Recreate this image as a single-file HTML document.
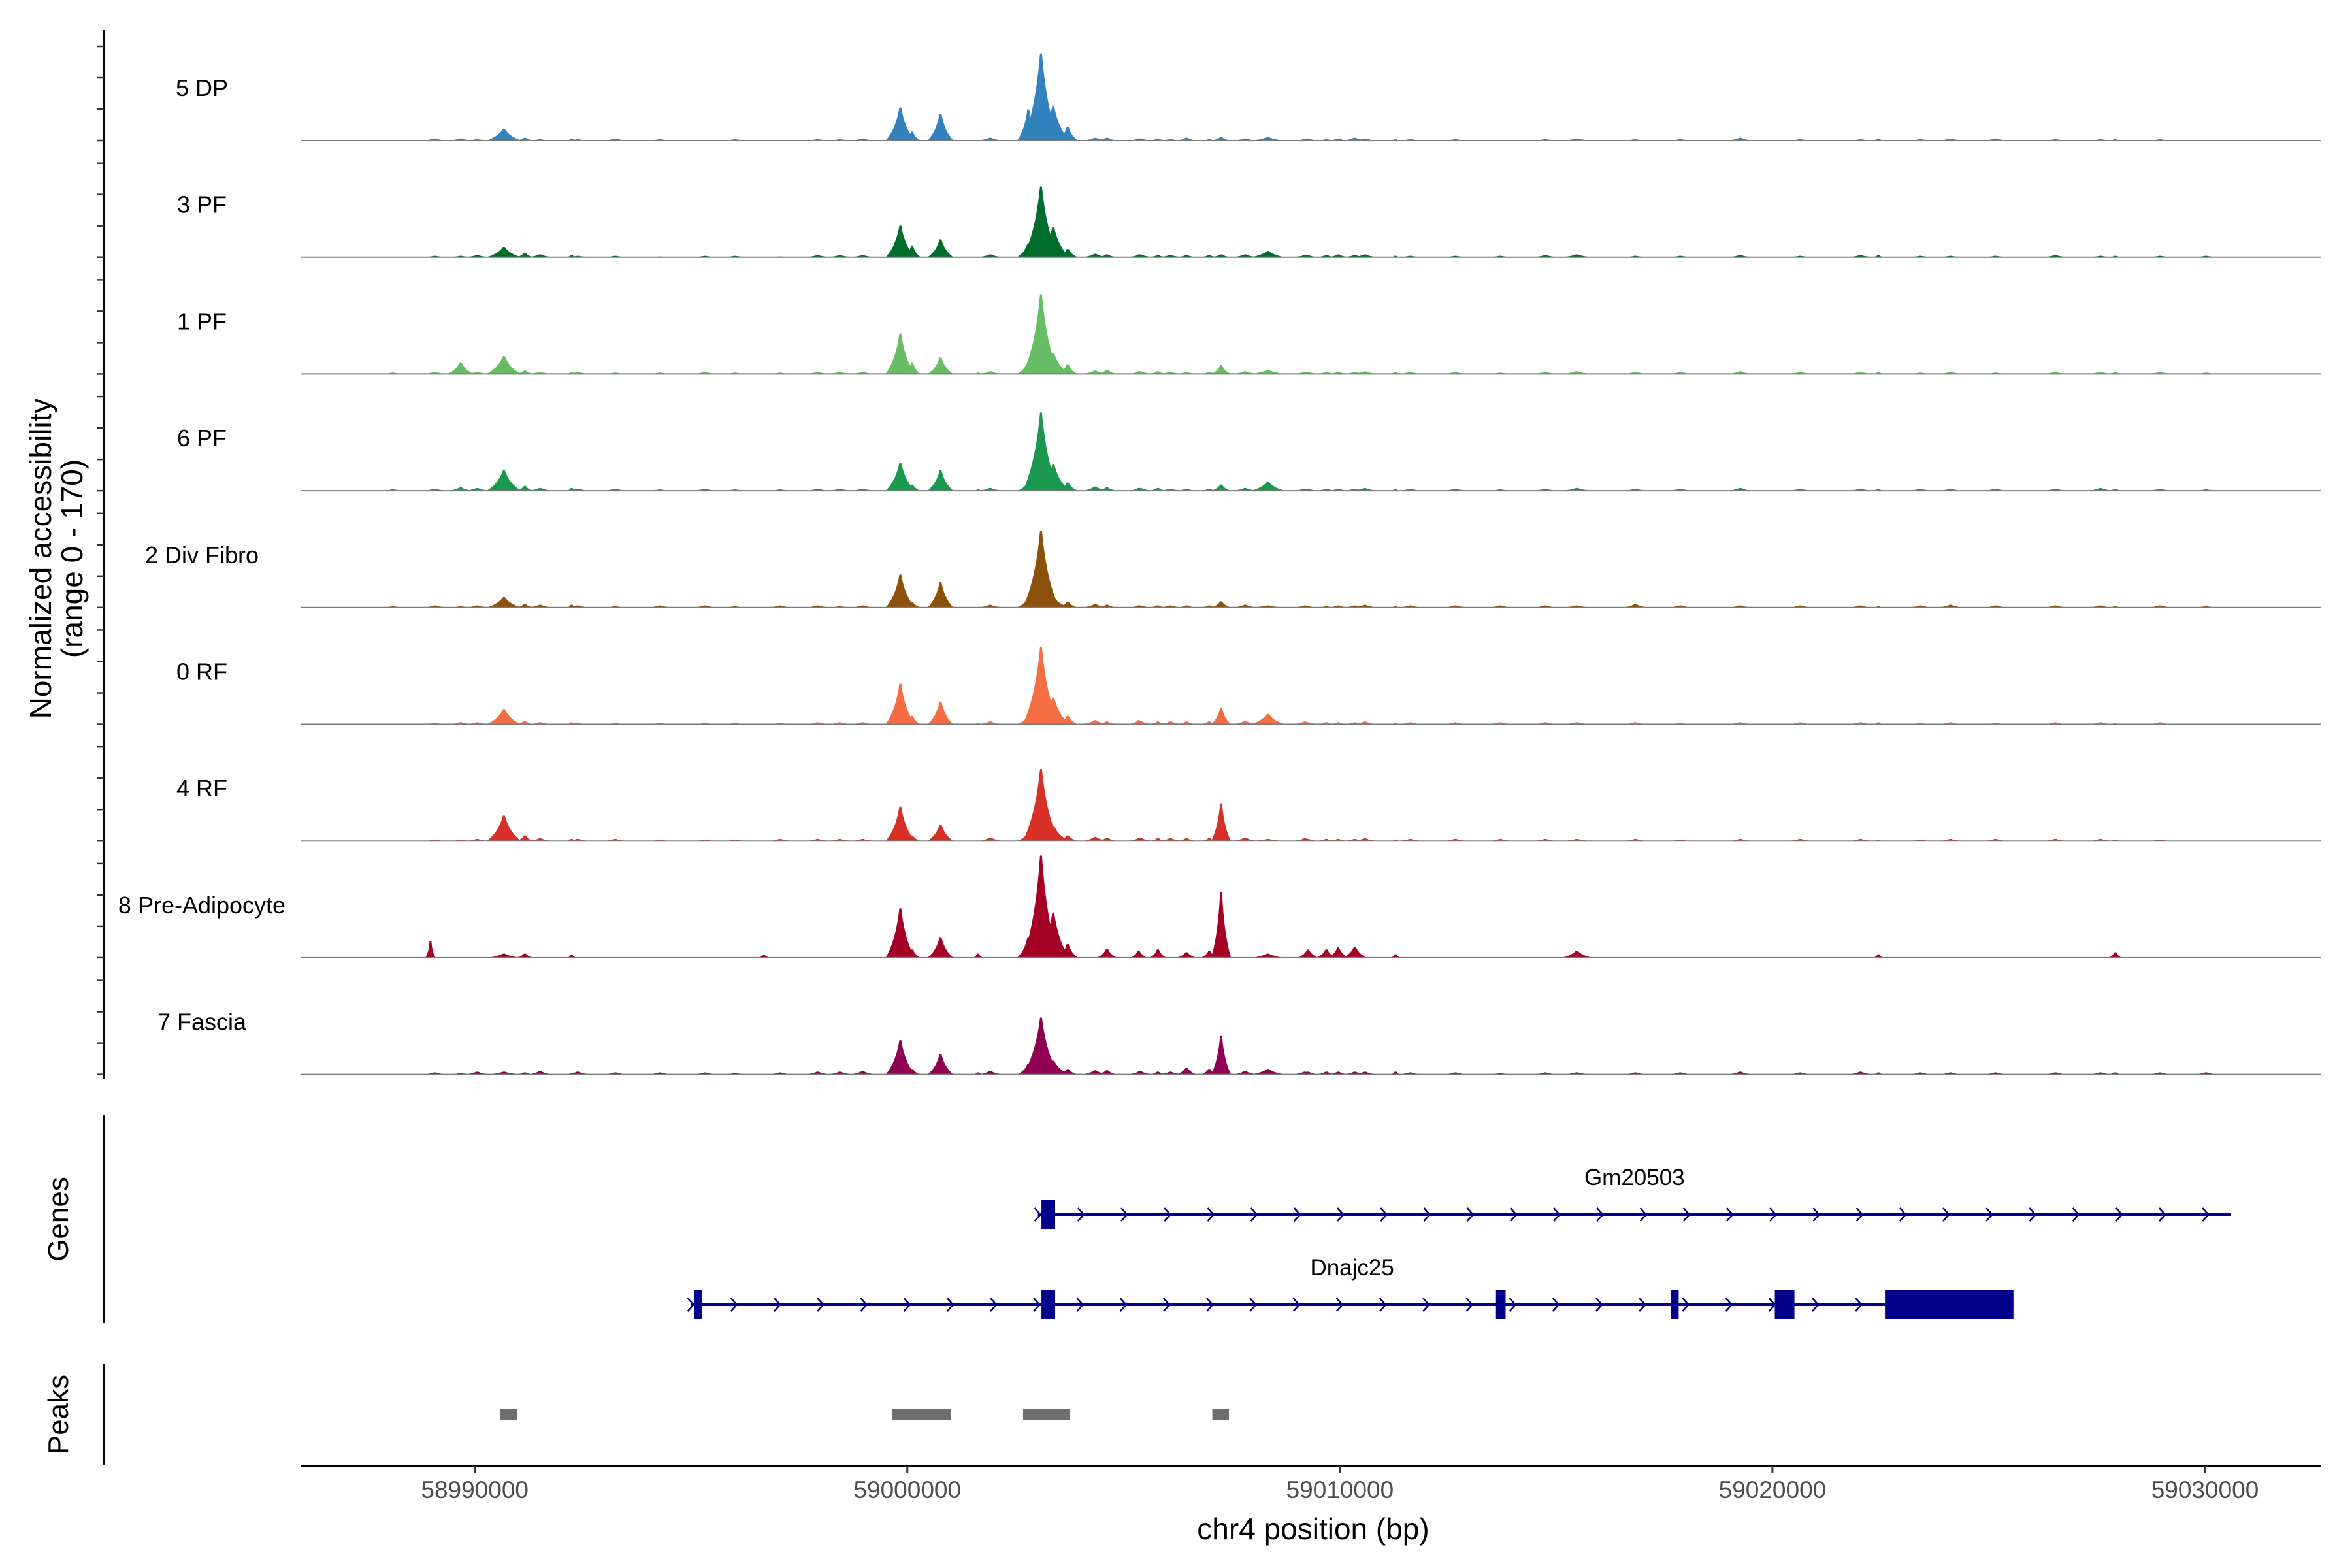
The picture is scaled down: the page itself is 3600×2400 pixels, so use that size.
<!DOCTYPE html>
<html><head><meta charset="utf-8"><style>
html,body{margin:0;padding:0;background:#fff;}
svg{display:block;}
text{font-family:"Liberation Sans",sans-serif;}
</style></head><body>
<svg id="chart" xmlns="http://www.w3.org/2000/svg" width="3600" height="2400" viewBox="0 0 3600 2400">
<rect x="0" y="0" width="3600" height="2400" fill="#fff"/>
<g id="tracks"></g>
<line x1="159" y1="46" x2="159" y2="1652" stroke="#000" stroke-width="3"/>
<g id="yticks"></g>
<text transform="translate(78,855) rotate(-90)" text-anchor="middle" font-size="46" fill="#000">Normalized accessibility</text>
<text transform="translate(126,855) rotate(-90)" text-anchor="middle" font-size="46" fill="#000">(range 0 - 170)</text>
<line x1="159" y1="1707" x2="159" y2="2025" stroke="#000" stroke-width="3"/>
<text transform="translate(104,1866) rotate(-90)" text-anchor="middle" font-size="44" fill="#000">Genes</text>
<g id="genes"></g>
<line x1="159" y1="2087" x2="159" y2="2242" stroke="#000" stroke-width="3"/>
<text transform="translate(104,2165) rotate(-90)" text-anchor="middle" font-size="44" fill="#000">Peaks</text>
<g id="peaks"></g>
<line x1="461" y1="2244" x2="3553" y2="2244" stroke="#000" stroke-width="4"/>
<g id="xticks"></g>
<text x="2010" y="2356" text-anchor="middle" font-size="46" fill="#000">chr4 position (bp)</text>
</svg>
<script>
const trackNames = ["5 DP","3 PF","1 PF","6 PF","2 Div Fibro","0 RF","4 RF","8 Pre-Adipocyte","7 Fascia"];
const trackColors = ["#3182bd","#006d2c","#66bd63","#1a9850","#8c510a","#f46d43","#d73027","#a50026","#8e0152"];
const peakPos = [58988976,58989672,58990673,58991158,58992239,58996684,58999838,59000110,59000767,59001635,59002797,59003090,59003373,59003707,59004616,59005349,59005793,59006455,59006980,59007253,59008335,59009264,59009688,59009961,59010345,59011285,59015477,59022449,59027924];
const peakWidth = [120,300,400,200,120,160,340,200,300,120,260,420,380,240,240,200,200,240,200,230,400,240,240,240,280,120,360,120,160];
const hDP     = [0,3,17,4,3,0,48,13,39,0,45,127,50,20,4,3,3,4,2,5,5,3,2,3,4,2,3,3,2];
const hPF3    = [0,2,15,6,3,0,46,17,26,0,20,103,44,12,4,4,3,3,3,4,9,3,3,4,3,2,4,3,2];
const hPF1    = [0,17,26,5,3,0,59,17,24,2,18,116,30,14,6,4,4,3,3,13,6,3,3,3,3,3,4,3,3];
const hPF6    = [0,5,30,7,4,0,41,9,30,2,12,114,39,12,5,4,4,3,3,9,13,3,3,3,3,2,4,3,3];
const hFibro  = [0,2,15,5,4,0,48,8,37,0,14,112,15,8,4,3,3,3,3,9,3,2,2,3,3,2,3,2,2];
const hRF0    = [0,3,22,5,3,0,59,12,33,2,12,112,39,12,4,6,4,4,4,24,15,3,3,3,3,2,3,3,2];
const hRF4    = [0,2,37,8,3,0,50,8,24,0,12,105,22,8,5,4,4,4,4,55,3,3,3,3,3,2,3,2,2];
const hPA8    = [24,0,6,6,4,4,72,12,30,6,30,149,66,20,13,10,12,8,10,96,6,12,12,15,16,5,10,5,8];
const hFascia = [0,2,4,3,2,0,50,8,30,3,15,83,20,8,6,4,4,10,8,57,8,4,4,4,4,4,3,3,3];
const bgPos = [58988106,58989076,58990056,58991511,58992381,58993249,58994280,58995321,58996017,58997058,58997928,58998442,58998967,59001918,59004343,59005384,59006081,59007809,59009193,59010577,59011628,59012669,59013709,59014749,59016831,59017872,59019255,59020641,59022035,59023419,59024116,59025157,59026541,59027582,59028961,59030024];
const bgDP     = [0,3,2,2,2,3,2,1,2,1,2,2,3,4,4,3,2,3,2,3,2,2,1,2,2,2,4,2,2,2,3,3,2,2,2,0];
const bgPF3    = [0,2,3,4,2,2,1,2,2,1,3,3,3,4,5,4,3,4,3,4,2,2,2,3,2,2,3,2,3,2,2,2,3,2,2,2];
const bgPF1    = [2,3,3,3,3,2,2,3,2,2,3,3,3,4,5,4,3,4,3,4,3,3,2,3,3,3,4,3,3,2,3,2,3,3,3,2];
const bgPF6    = [2,3,4,4,3,3,2,3,2,2,3,3,3,4,6,4,3,4,3,4,3,3,2,3,3,3,4,3,3,3,3,3,3,4,3,2];
const bgFibro  = [2,3,3,4,3,2,3,3,2,3,3,2,3,4,5,3,3,4,3,4,3,3,3,3,5,3,3,3,3,3,4,3,3,3,3,2];
const bgRF0    = [0,2,3,3,2,2,2,2,2,2,3,3,3,4,6,5,4,5,4,4,3,3,3,3,3,2,3,3,3,2,3,2,3,3,3,0];
const bgRF4    = [0,2,3,4,3,3,2,2,2,3,3,3,3,5,6,5,4,5,4,4,3,3,3,3,3,2,3,3,3,2,3,3,3,3,2,0];
const bgPA8    = [0,0,0,0,0,0,0,0,0,0,0,0,0,0,0,0,0,0,0,0,0,0,0,0,0,0,0,0,0,0,0,0,0,0,0,0];
const bgFascia = [0,3,4,5,4,3,3,3,2,3,4,4,5,5,6,5,4,5,4,4,3,3,2,3,3,3,4,3,4,3,3,3,3,3,3,3];
const xTickValues = [58990000,59000000,59010000,59020000,59030000];
const xTickLabels = ["58990000","59000000","59010000","59020000","59030000"];
const geneNames = ["Gm20503","Dnajc25"];
const geneStarts = [59003019,58994997];
const geneEnds = [59030603,59025571];
const gm20503ExonStarts = [59003101];
const gm20503ExonEnds = [59003417];
const dnajc25ExonStarts = [58995068,59003101,59013608,59017650,59020055,59022601];
const dnajc25ExonEnds = [58995250,59003417,59013831,59017832,59020508,59025571];
const peakStarts = [58990592,58999655,59002676,59007051];
const peakEnds = [58990976,59001008,59003758,59007435];

const NS="http://www.w3.org/2000/svg";
function X(bp){return 726.7+(bp-58990000)*0.066208;}
const trackTop=215, trackStep=178.7, unitPx=1.05;
function baseY(i){return trackTop+i*trackStep;}
function mk(tag,attrs,parent){const e=document.createElementNS(NS,tag);for(const k in attrs)e.setAttribute(k,attrs[k]);parent.appendChild(e);return e;}

const heights=[hDP,hPF3,hPF1,hPF6,hFibro,hRF0,hRF4,hPA8,hFascia];
const bgs=[bgDP,bgPF3,bgPF1,bgPF6,bgFibro,bgRF0,bgRF4,bgPA8,bgFascia];
const tracksG=document.getElementById('tracks');
function spike(c,h,w,y0){
  const xl=X(c-w),xr=X(c+w),xc=X(c),yt=y0-h*unitPx;
  return `M${xl},${y0} Q${X(c-w*0.3)},${y0-h*unitPx*0.35} ${xc-1.5},${yt} L${xc+1.5},${yt} Q${X(c+w*0.3)},${y0-h*unitPx*0.35} ${xr},${y0} Z`;
}
for(let t=0;t<trackNames.length;t++){
  const y0=baseY(t);
  const g=mk('g',{},tracksG);
  
  
  const lbl=mk('text',{x:309,y:y0-68,'text-anchor':'middle','font-size':36,fill:'#000'},g);
  lbl.textContent=trackNames[t];
  
  
  let d='';
  for(let i=0;i<bgPos.length;i++){ if(bgs[t][i]>0) d+=spike(bgPos[i],bgs[t][i],300,y0); }
  const bgp=mk('path',{d:d,fill:trackColors[t]},g);
  
  
  for(let i=0;i<peakPos.length;i++){
    if(heights[t][i]<=0) continue;
    const p=mk('path',{d:spike(peakPos[i],heights[t][i],peakWidth[i],y0),fill:trackColors[t]},g);
    
    
  }
  const bl=mk('line',{x1:461,x2:3553,y1:y0,y2:y0,stroke:'#7a7a7a','stroke-width':2},g);
  
  
}
const yt=document.getElementById('yticks');
for(let t=0;t<trackNames.length;t++){
  for(let k=0;k<4;k++){
    const y=baseY(t)-k*48;
    const l=mk('line',{x1:149,x2:159,y1:y,y2:y,stroke:'#333','stroke-width':2.5},yt);
    
    
  }
}
const xt=document.getElementById('xticks');
for(let i=0;i<xTickValues.length;i++){
  const x=X(xTickValues[i]);
  const l=mk('line',{x1:x,x2:x,y1:2244,y2:2255,stroke:'#333','stroke-width':3},xt);
  
  
  const tx=mk('text',{x:x,y:2293,'text-anchor':'middle','font-size':37,fill:'#4d4d4d'},xt);
  tx.textContent=xTickLabels[i];
  
  
}
const genesG=document.getElementById('genes');
const geneY=[1859,1997];
const exS=[gm20503ExonStarts,dnajc25ExonStarts], exE=[gm20503ExonEnds,dnajc25ExonEnds];
const blue='#00008b';
for(let g=0;g<geneNames.length;g++){
  const gg=mk('g',{},genesG);
  
  
  const y=geneY[g], x1=X(geneStarts[g]), x2=X(geneEnds[g]);
  mk('line',{x1:x1,x2:x2,y1:y,y2:y,stroke:blue,'stroke-width':4},gg);
  for(let bp=geneStarts[g];bp<=geneEnds[g]+1;bp+=1000){
    const cx=X(bp);
    const ch=mk('path',{d:`M${cx-5},${y-10} L${cx+4},${y} L${cx-5},${y+10}`,fill:'none',stroke:blue,'stroke-width':2.5},gg);
    
    
  }
  for(let e=0;e<exS[g].length;e++){
    const r=mk('rect',{x:X(exS[g][e]),y:y-22,width:Math.max(X(exE[g][e])-X(exS[g][e]),6),height:44,fill:blue},gg);
    
    
  }
  const lx=(x1+x2)/2;
  const lt=mk('text',{x:lx,y:y-45,'text-anchor':'middle','font-size':35,fill:'#000'},gg);
  lt.textContent=geneNames[g];
  
  
}
const pk=document.getElementById('peaks');
for(let i=0;i<peakStarts.length;i++){
  const r=mk('rect',{x:X(peakStarts[i]),y:2157,width:X(peakEnds[i])-X(peakStarts[i]),height:17,fill:'#6e6e6e'},pk);
  
  
}
</script>
</body></html>
